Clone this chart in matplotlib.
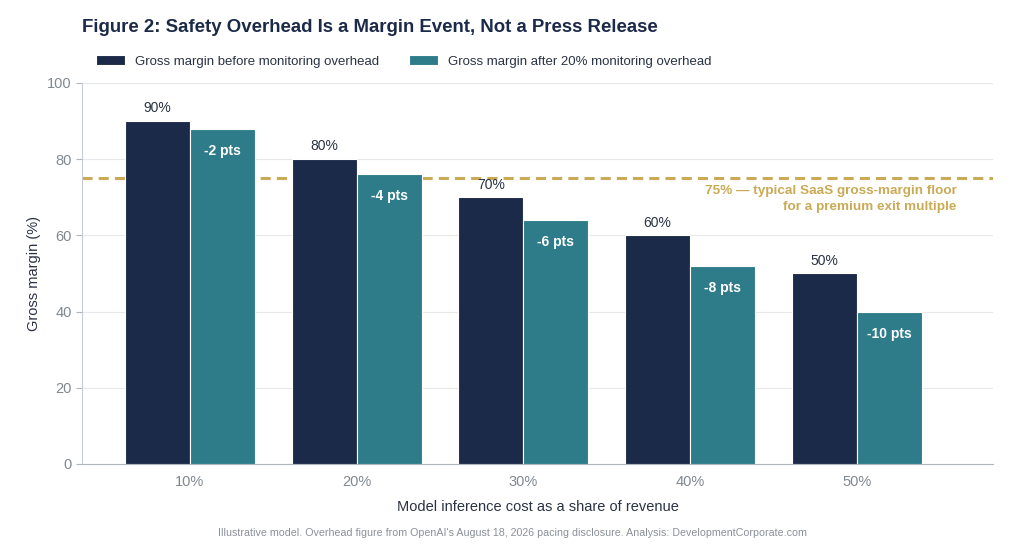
import matplotlib
matplotlib.use("Agg")
import matplotlib.pyplot as plt
import numpy as np

plt.rcParams['font.family'] = ['Liberation Sans', 'DejaVu Sans']

categories = ["10%", "20%", "30%", "40%", "50%"]
before = [90, 80, 70, 60, 50]
after = [88, 76, 64, 52, 40]
delta_labels = ["-2 pts", "-4 pts", "-6 pts", "-8 pts", "-10 pts"]
floor_value = 75

NAVY = "#1c2a4a"
TEAL = "#2e7b8a"
GOLD = "#c9aa55"
GRAY = "#808890"

fig = plt.figure(figsize=(10.24, 5.53), dpi=100)
ax = fig.add_axes([0.080, 0.161, 0.890, 0.689])

x = np.arange(len(categories))
w = 0.39
b1 = ax.bar(x - w / 2, before, w, color=NAVY, edgecolor="white", linewidth=0.8,
            label="Gross margin before monitoring overhead", zorder=3)
b2 = ax.bar(x + w / 2, after, w, color=TEAL, edgecolor="white", linewidth=0.8,
            label="Gross margin after 20% monitoring overhead", zorder=3)

for xi, v in zip(x, before):
    ax.text(xi - w / 2, v + 1.5, f"{v}%", ha="center", va="bottom", fontsize=10,
            color="#2a3345", zorder=4)
for xi, v, lab in zip(x, after, delta_labels):
    ax.text(xi + w / 2, v - 5.8, lab, ha="center", va="center", fontsize=10,
            fontweight="bold", color="white", zorder=4)

ax.axhline(floor_value, color=GOLD, linestyle=(0, (3.3, 2)), linewidth=2.2, zorder=2)
ax.text(4.6, floor_value - 1.8, "75% — typical SaaS gross-margin floor\nfor a premium exit multiple",
        ha="right", va="top", fontsize=9.7, fontweight="bold", color=GOLD,
        linespacing=1.42, zorder=4)

ax.set_ylim(0, 100)
ax.set_xlim(-0.648, 4.82)
ax.set_yticks([0, 20, 40, 60, 80, 100])
ax.set_xticks(x)
ax.set_xticklabels(categories)
ax.tick_params(axis="both", colors="#b0b6bd", labelcolor=GRAY, labelsize=10.5, length=4)
ax.tick_params(axis="x", length=0, pad=8)
ax.grid(axis="y", color="#e6e8eb", linewidth=0.8, zorder=0)
ax.set_axisbelow(True)
for s in ["top", "right"]:
    ax.spines[s].set_visible(False)
ax.spines["left"].set_color("#c8cdd3")
ax.spines["bottom"].set_color("#b0b6bd")

ax.set_ylabel("Gross margin (%)", fontsize=10.5, color="#2a3345", labelpad=4)
ax.set_xlabel("Model inference cost as a share of revenue", fontsize=10.5,
              color="#2a3345", labelpad=8)

fig.text(0.080, 0.951, "Figure 2: Safety Overhead Is a Margin Event, Not a Press Release",
         fontsize=13.4, fontweight="bold", color=NAVY, ha="left", va="center")
fig.legend(handles=[b1, b2], loc="center left", bbox_to_anchor=(0.082, 0.889),
           ncol=2, frameon=False, fontsize=9.5, handlelength=2.2, handleheight=0.8,
           columnspacing=2.2, labelcolor="#2a3345")

fig.text(0.5, 0.036, "Illustrative model. Overhead figure from OpenAI's August 18, 2026 pacing disclosure. Analysis: DevelopmentCorporate.com",
         ha="center", va="center", fontsize=7.7, color="#8a9099")

fig.savefig("out.png", dpi=100, facecolor="white")
